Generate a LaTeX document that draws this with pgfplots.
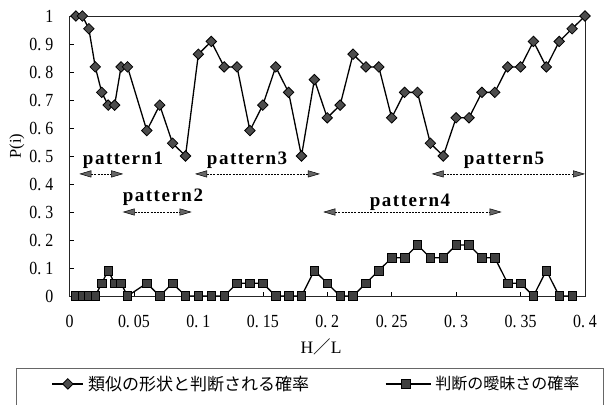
\documentclass[border=0pt]{standalone}
\usepackage{pgfplots}
\pgfplotsset{compat=1.18}
\usepackage{fontspec}
\setmainfont{Liberation Serif}
\newfontfamily\patfont{Liberation Serif}[LetterSpace=8]
\newfontfamily\tickfont{Liberation Serif}[FakeStretch=0.86]
\newfontfamily\cjk{Noto Sans CJK JP}
\usetikzlibrary{arrows.meta}
\newcommand\dd{\kern4bp\relax}
\tikzset{patarrow/.style={black, line width=0.6bp, dash pattern=on 2bp off 1.2bp,
  {Triangle[length=12bp,width=7bp,fill=black!60,color=black,line width=0.5bp]}-{Triangle[length=12bp,width=7bp,fill=black!60,color=black,line width=0.5bp]}}}
\pgfplotsset{
  legimgA/.style={legend image code/.code={\draw[mark repeat=2,mark phase=2,##1] plot coordinates {(0bp,0bp) (15.5bp,0bp) (31bp,0bp)};}},
  legimgB/.style={legend image code/.code={\draw[mark repeat=2,mark phase=2,##1] plot coordinates {(0bp,0bp) (20bp,0bp) (45bp,0bp)};}},
}
\begin{document}
\begin{tikzpicture}
\path[use as bounding box] (0,0) rectangle (607bp,405bp);
\draw[black!60, line width=0.8bp] (16.7bp,37bp) rectangle (603bp,-30bp);
\begin{axis}[
  at={(69.5bp,109bp)}, anchor=south west,
  width=515.5bp, height=280bp, scale only axis,
  xmin=0, xmax=0.4, ymin=0, ymax=1,
  clip=false,
  axis line style={black!85, line width=0.8bp},
  tick align=inside, xtick pos=left, ytick pos=left,
  major tick length=4bp, tick style={black, line width=0.6bp},
  xtick={0,0.05,0.1,0.15,0.2,0.25,0.3,0.35,0.4},
  xticklabels={0,0.\dd 05,0.\dd 1,0.\dd 15,0.\dd 2,0.\dd 25,0.\dd 3,0.\dd 35,0.\dd 4},
  ytick={0,0.1,0.2,0.3,0.4,0.5,0.6,0.7,0.8,0.9,1},
  yticklabels={0,0.\dd 1,0.\dd 2,0.\dd 3,0.\dd 4,0.\dd 5,0.\dd 6,0.\dd 7,0.\dd 8,0.\dd 9,1},
  ticklabel style={font=\tickfont\fontsize{18.5bp}{21bp}\selectfont, inner sep=0pt},
  yticklabel style={anchor=east, xshift=-16bp},
  xticklabel style={anchor=north, yshift=-19bp},
  xlabel={H{\cjk ／}L},
  ylabel={P(i)},
  xlabel style={at={(axis description cs:0.488,-0.182)}, anchor=center, font=\fontsize{17.5bp}{20bp}\selectfont},
  ylabel style={at={(axis description cs:-0.102,0.536)}, anchor=center, font=\fontsize{16.5bp}{19bp}\selectfont},
  legend columns=2,
  legend cell align=left,
  legend style={at={(axis description cs:-0.0345,-0.314)}, anchor=west, draw=none, fill=none,
    inner sep=0pt, outer sep=0pt, nodes={inner sep=0pt},
    /tikz/every odd column/.append style={column sep=4bp},
    /tikz/column 2/.append style={column sep=76bp}},
]
\addplot[black, line width=1.3bp, mark=square*, mark size=3.7bp,
  mark options={rotate=45, fill=black!70, draw=black, line width=0.8bp}, legimgA] table {
x y
0.005 1
0.010 1
0.015 0.9545
0.020 0.8182
0.025 0.7273
0.030 0.6818
0.035 0.6818
0.040 0.8182
0.045 0.8182
0.060 0.5909
0.070 0.6818
0.080 0.5455
0.090 0.5
0.100 0.8636
0.110 0.9091
0.120 0.8182
0.130 0.8182
0.140 0.5909
0.150 0.6818
0.160 0.8182
0.170 0.7273
0.180 0.5
0.190 0.7727
0.200 0.6364
0.210 0.6818
0.220 0.8636
0.230 0.8182
0.240 0.8182
0.250 0.6364
0.260 0.7273
0.270 0.7273
0.280 0.5455
0.290 0.5
0.300 0.6364
0.310 0.6364
0.320 0.7273
0.330 0.7273
0.340 0.8182
0.350 0.8182
0.360 0.9091
0.370 0.8182
0.380 0.9091
0.390 0.9545
0.400 1
};
\addlegendentry{{\cjk\fontsize{17bp}{20bp}\selectfont 類似の形状と判断される確率}}
\addplot[black, line width=1.3bp, mark=square*, mark size=4.3bp,
  mark options={fill=black!75, draw=black, line width=0.6bp}, legimgB] table {
x y
0.005 0
0.010 0
0.015 0
0.020 0
0.025 0.0455
0.030 0.0909
0.035 0.0455
0.040 0.0455
0.045 0
0.060 0.0455
0.070 0
0.080 0.0455
0.090 0
0.100 0
0.110 0
0.120 0
0.130 0.0455
0.140 0.0455
0.150 0.0455
0.160 0
0.170 0
0.180 0
0.190 0.0909
0.200 0.0455
0.210 0
0.220 0
0.230 0.0455
0.240 0.0909
0.250 0.1364
0.260 0.1364
0.270 0.1818
0.280 0.1364
0.290 0.1364
0.300 0.1818
0.310 0.1818
0.320 0.1364
0.330 0.1364
0.340 0.0455
0.350 0.0455
0.360 0
0.370 0.0909
0.380 0
0.390 0
};
\addlegendentry{{\cjk\fontsize{16bp}{19bp}\selectfont 判断の曖昧さの確率}}
\begin{scope}[every node/.style={font={\patfont\bfseries\fontsize{19bp}{22bp}\selectfont}, anchor=base, inner sep=0pt}]
\node at (axis cs:0.0416,0.4696) {pattern1};
\node at (axis cs:0.0725,0.338) {pattern2};
\node at (axis cs:0.1378,0.4696) {pattern3};
\node at (axis cs:0.2642,0.321) {pattern4};
\node at (axis cs:0.3372,0.4696) {pattern5};
\end{scope}
\draw[patarrow] (axis cs:0.0076,0.436) -- (axis cs:0.0417,0.436);
\draw[patarrow] (axis cs:0.0413,0.300) -- (axis cs:0.0948,0.300);
\draw[patarrow] (axis cs:0.0974,0.436) -- (axis cs:0.1943,0.436);
\draw[patarrow] (axis cs:0.1969,0.300) -- (axis cs:0.3353,0.300);
\draw[patarrow] (axis cs:0.2810,0.436) -- (axis cs:0.4000,0.436);
\end{axis}
\end{tikzpicture}
\end{document}
